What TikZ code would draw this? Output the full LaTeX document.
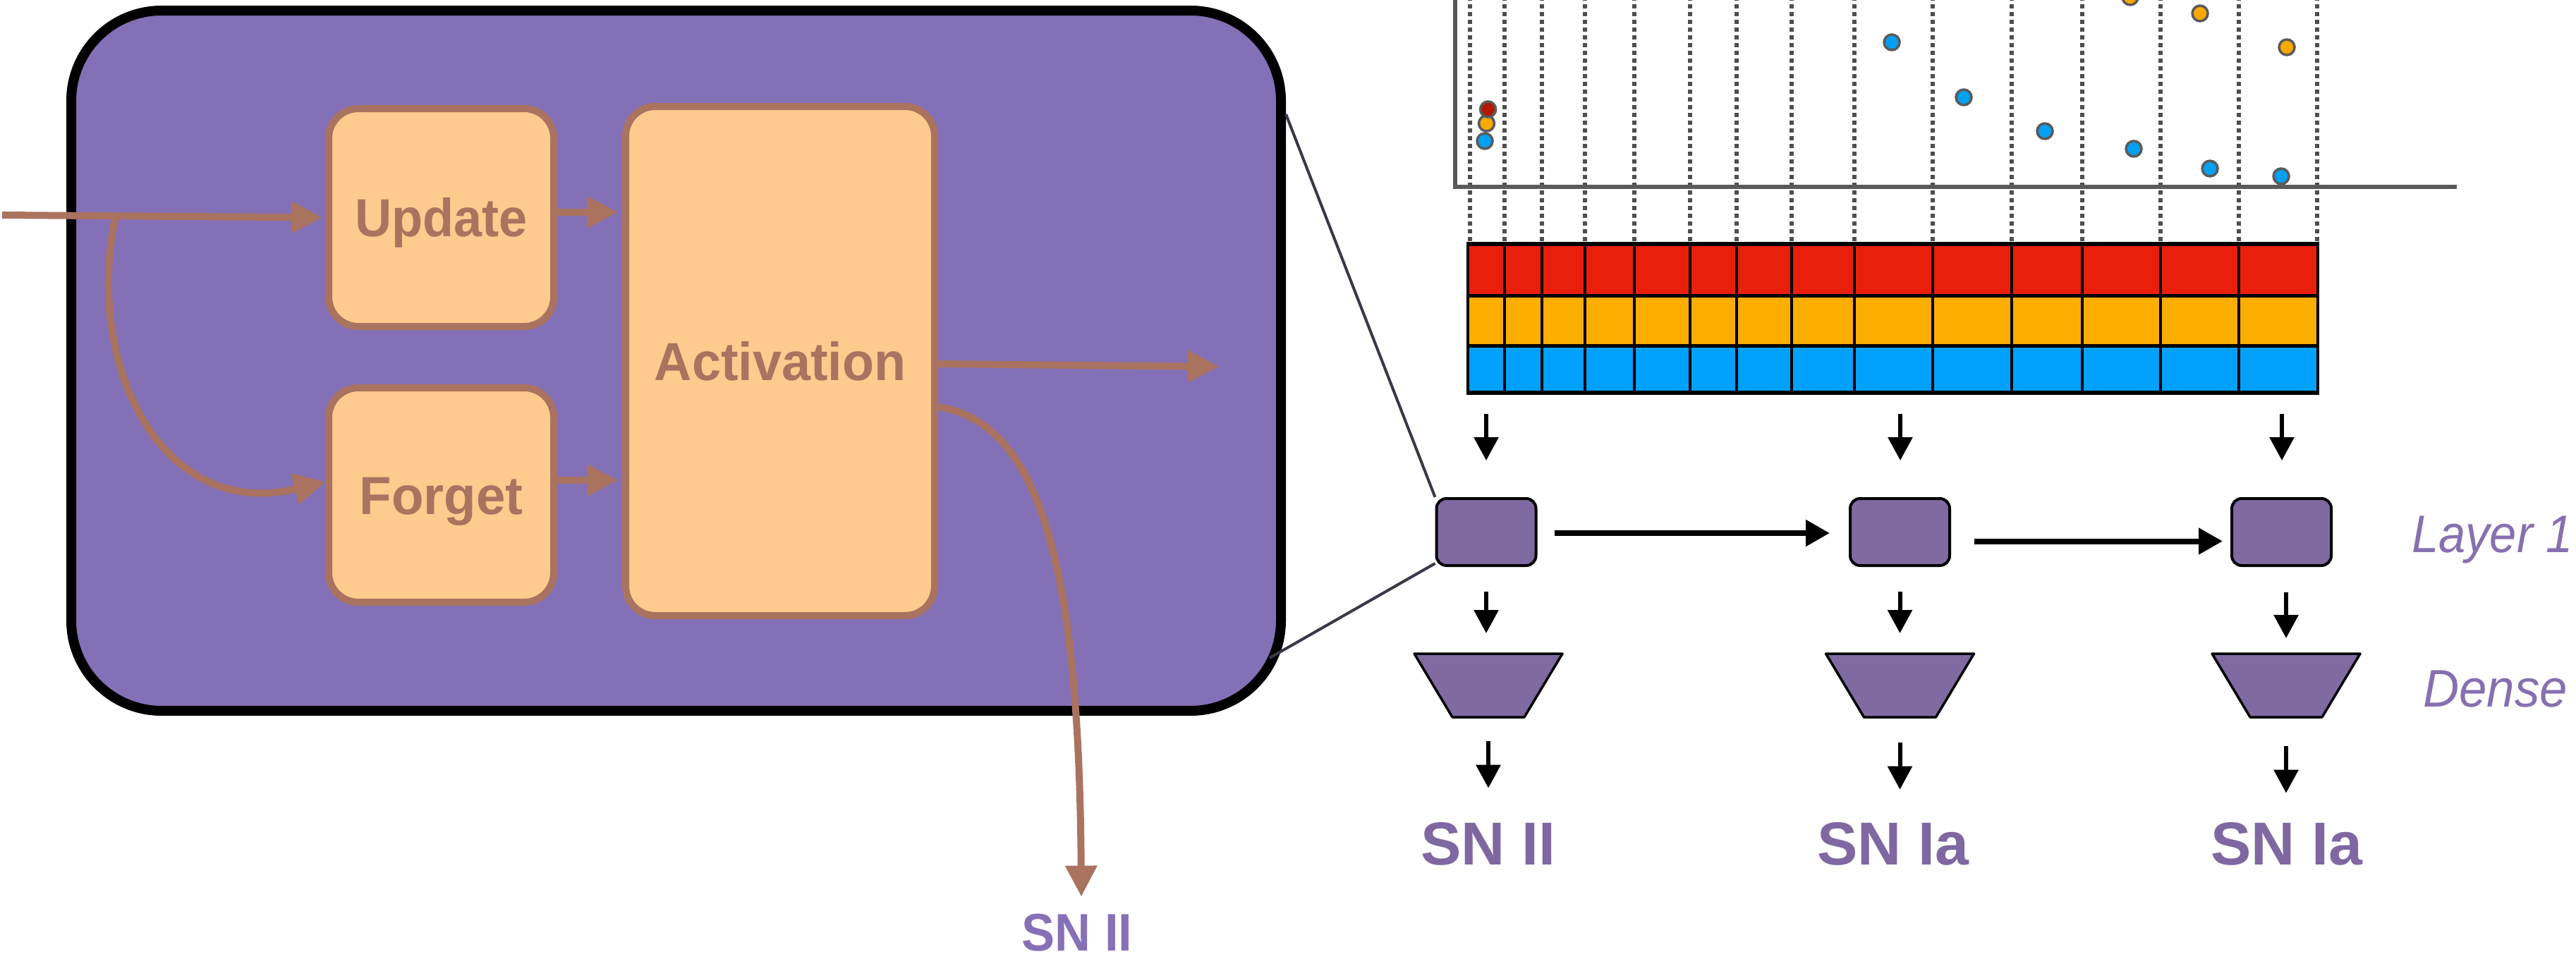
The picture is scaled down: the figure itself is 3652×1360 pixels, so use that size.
\documentclass[tikz,border=0pt]{standalone}
\usepackage{graphicx}
\usepackage{fontspec}
\setmainfont{Liberation Sans}
\usetikzlibrary{arrows.meta}
\definecolor{lstmfill}{HTML}{8470B6}
\definecolor{peach}{HTML}{FECA8D}
\definecolor{brn}{HTML}{AA7360}
\definecolor{sqfill}{HTML}{7F6AA2}
\definecolor{labL}{HTML}{8670B6}
\definecolor{labR}{HTML}{7F67A1}
\definecolor{labS}{HTML}{8670B0}
\definecolor{axgray}{HTML}{5A5A5A}
\definecolor{dashgray}{HTML}{4E4E4E}
\definecolor{cred}{HTML}{E91F0B}
\definecolor{corg}{HTML}{FBAE00}
\definecolor{cblu}{HTML}{01A1FD}
\definecolor{dred}{HTML}{B01800}
\definecolor{dorg}{HTML}{F8A900}
\definecolor{dblu}{HTML}{03A0F2}
\definecolor{zline}{HTML}{383848}
\begin{document}
\begin{tikzpicture}[x=1pt,y=-1pt,
 bigbox/.style={draw=black, line width=14pt, fill=lstmfill, rounded corners=128pt, minimum width=1715pt, minimum height=993pt, inner sep=0pt},
 gatebox/.style={draw=brn, line width=10pt, fill=peach, rounded corners=42pt, inner sep=0pt, text height=54pt, text depth=0pt, font=\fontsize{76pt}{80pt}\selectfont\bfseries, text=brn},
 brarr/.style={draw=brn, line width=10pt, -{Triangle[length=44pt,width=43pt]}},
 barr/.style={draw=black, line width=6pt, -{Triangle[length=33pt,width=34pt]}},
 harr/.style={draw=black, line width=8pt, -{Triangle[length=34pt,width=36pt]}},
 cellbox/.style={draw=black, line width=4pt, fill=sqfill, rounded corners=14pt, minimum width=141pt, minimum height=95pt, inner sep=0pt},
 densebox/.style={draw=black, line width=3.5pt, fill=sqfill, line join=round},
 snlab/.style={text=labR, font=\fontsize{86pt}{90pt}\selectfont\bfseries, inner sep=0pt, text height=62pt, text depth=0pt},
 sidelab/.style={text=labS, font=\fontsize{75pt}{80pt}\selectfont\itshape, inner sep=0pt},
 guide/.style={draw=dashgray, line width=5.5pt, dash pattern=on 5.5pt off 5.5pt},
 zoomline/.style={draw=zline, line width=4pt},
 dotc/.style={draw=axgray, line width=3.5pt}
]
\useasboundingbox (0,0) rectangle (3652,1360);

% ---------- left panel ----------
\node[bigbox] (lstm) at (958.5,511.5) {};
\node[gatebox, minimum width=319pt, minimum height=309pt] (upd) at (625.5,308.5) {\scalebox{0.95}[1]{Update}};
\node[gatebox, minimum width=319pt, minimum height=304pt] (frg) at (625.5,702) {\scalebox{0.98}[1]{Forget}};
\node[gatebox, minimum width=438pt, minimum height=722pt] (act) at (1106,512) {\scalebox{0.97}[1]{Activation}};
\node[snlab, text=labL, font=\fontsize{75pt}{80pt}\selectfont\bfseries, text height=54pt, anchor=south] (snl) at (1527,1349) {\scalebox{0.94}[1]{SN II}};

\coordinate (inp) at (3,305);
\coordinate (br) at (163,310);
\coordinate (outR) at (1728,520);
\draw[brarr, shorten >=4pt] (inp) -- (upd.west);
\draw[brarr] (br) .. controls (120,520) and (230,740) .. ([yshift=19pt]frg.west);
\draw[brarr, shorten >=6pt] ([yshift=7.5pt]upd.east) -- ([yshift=7.5pt]upd.east -| act.west);
\draw[brarr, shorten >=6pt] ([yshift=21pt]frg.east) -- ([yshift=21pt]frg.east -| act.west);
\draw[brarr] ([yshift=-4pt]act.east) -- (outR);
\draw[brarr] ([yshift=-65pt]act.east) .. controls (1480,600) and (1530,820) .. ([shift={(6pt,23pt)}]snl.north);

% ---------- right panel: plot ----------
\foreach \x in {2084,2133,2186,2247,2317,2396,2462,2540,2629,2740,2852,2952,3063,3174,3285}
  \draw[guide] (\x,-5) -- (\x,343);
\draw[draw=axgray, line width=6pt] (2063,-10) -- (2063,265) -- (3483,265);
\foreach \x/\y/\c in {2107.5/175/dorg, 2109.6/155/dred, 2105/200/dblu,
   2682/60/dblu, 2784/138/dblu, 2899/186/dblu, 3025/211/dblu, 3133/239/dblu, 3234/250/dblu,
   3020/-4/dorg, 3119/19/dorg, 3242/67/dorg}
  \draw[dotc, fill=\c] (\x,\y) circle[radius=11pt];

% ---------- grid ----------
\fill[cred] (2081,345.5) rectangle (3286,419);
\fill[corg] (2081,419) rectangle (3286,490.5);
\fill[cblu] (2081,490.5) rectangle (3286,557);
\foreach \x in {2133,2186,2247,2317,2396,2462,2540,2629,2740,2852,2952,3063,3174}
  \draw[black, line width=3.5pt] (\x,345.5) -- (\x,557);
\foreach \y/\w in {345.5/6, 419/5, 490.5/5.5, 557/6}
  \draw[black, line width=\w pt] (2079,\y) -- (3288,\y);
\draw[black, line width=4pt] (2081,345.5) -- (2081,557) (3286,345.5) -- (3286,557);
\coordinate (g1) at (2107,557);
\coordinate (g2) at (2694,557);
\coordinate (g3) at (3235,557);

% ---------- layer ----------
\node[cellbox] (sq1) at (2107,754.5) {};
\node[cellbox] (sq2) at (2693.5,754.5) {};
\node[cellbox] (sq3) at (3234.5,754.5) {};
\draw[barr, shorten <=30pt, shorten >=52pt] (g1) -- (g1 |- sq1.north);
\draw[barr, shorten <=30pt, shorten >=52pt] (g2) -- (g2 |- sq2.north);
\draw[barr, shorten <=30pt, shorten >=52pt] (g3) -- (g3 |- sq3.north);
\draw[harr, shorten <=24pt, shorten >=27pt] ([yshift=-1.5pt]sq1.east) -- ([yshift=-1.5pt]sq2.west);
\draw[harr, shorten <=33pt, shorten >=11pt] ([yshift=-13pt]sq2.east) -- ([yshift=-13pt]sq3.west);

% ---------- dense ----------
\foreach \i/\cx in {1/2110,2/2693.5,3/3241} {
  \draw[densebox] (\cx-105,927) -- (\cx+105,927) -- (\cx+51,1017) -- (\cx-51,1017) -- cycle;
  \coordinate (tt\i) at (\cx,927);
  \coordinate (tb\i) at (\cx,1017);
}
\draw[barr, shorten <=35pt, shorten >=29pt] (sq1.south) -- (sq1.south |- tt1);
\draw[barr, shorten <=35pt, shorten >=29pt] (sq2.south) -- (sq2.south |- tt2);
\draw[barr, shorten <=36pt, shorten >=22pt] (tt3 |- sq3.south) -- (tt3);

% ---------- outputs ----------
\node[snlab, anchor=south] (lab1) at (2110,1227) {SN II};
\node[snlab, anchor=south] (lab2) at (2684,1227) {SN Ia};
\node[snlab, anchor=south] (lab3) at (3242,1227) {SN Ia};
\draw[barr, shorten <=34pt, shorten >=47pt] (tb1) -- (tb1 |- lab1.north);
\draw[barr, shorten <=36pt, shorten >=45pt] (tb2) -- (tb2 |- lab2.north);
\draw[barr, shorten <=41pt, shorten >=40pt] (tb3) -- (tb3 |- lab3.north);

\node[sidelab, anchor=base west] (lay) at (3419,783) {\scalebox{0.915}[1]{Layer 1}};
\node[sidelab, anchor=base west] (dns) at (3435,1002) {\scalebox{0.945}[1]{Dense}};

% ---------- zoom lines ----------
\draw[zoomline] ([yshift=-154pt]lstm.north east) -- (sq1.north west);
\draw[zoomline] ([shift={(-23pt,82pt)}]lstm.south east) -- ([yshift=5pt]sq1.south west);
\end{tikzpicture}
\end{document}
